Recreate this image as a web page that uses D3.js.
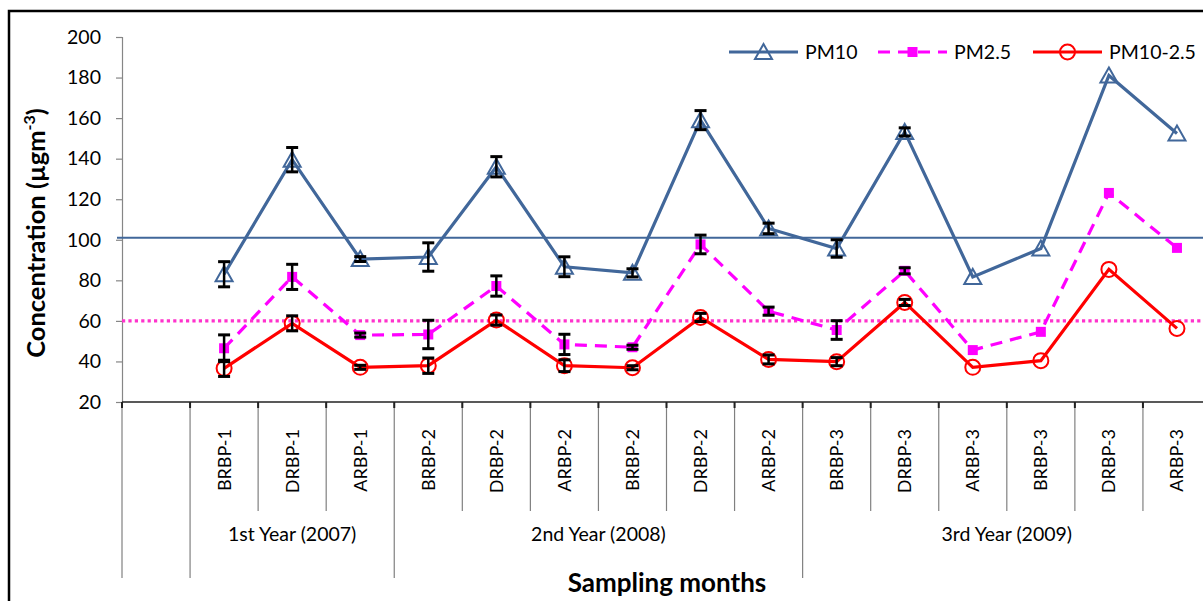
<!DOCTYPE html>
<html>
<head>
<meta charset="utf-8">
<script src="https://cdn.jsdelivr.net/npm/d3@7"></script>
<style>
  html, body { margin: 0; padding: 0; background: #fff; }
  svg { display: block; }
  text { font-family: Lato, "Open Sans", sans-serif; fill: #000; }
</style>
</head>
<body>
<svg id="chart" width="1203" height="601"></svg>
<script>
// ---------------- data ----------------
const categories = ["", "BRBP-1", "DRBP-1", "ARBP-1", "BRBP-2", "DRBP-2", "ARBP-2", "BRBP-2", "DRBP-2", "ARBP-2",
                    "BRBP-3", "DRBP-3", "ARBP-3", "BRBP-3", "DRBP-3", "ARBP-3"];
const groupLabels = ["", "1st Year (2007)", "2nd Year (2008)", "3rd Year (2009)"];
const groupSizes = [1, 3, 6, 6];

const pm10     = [null, 83, 139.5, 90.5, 91.5, 136, 86.7, 83.7, 159, 105.6, 95.7, 153.2, 81.7, 95.7, 181, 152.4];
const pm10Err  = [null, 6.2, 6, 1.2, 7, 5, 4.9, 2, 4.7, 2.6, 4.3, 2, 0, 0, 0, 0];
const pm25     = [null, 46.5, 81.7, 53, 53.3, 77.2, 48.4, 47, 97.7, 64.8, 55.5, 84.7, 45.6, 54.6, 123.1, 96];
const pm25Err  = [null, 6.6, 6.2, 1, 7, 5, 5, 1, 4.6, 2, 4.6, 1.5, 0, 0, 0, 0];
const pm1025   = [null, 36.6, 58.8, 37.1, 37.9, 60.4, 37.9, 36.9, 61.7, 41, 39.9, 69.1, 37.1, 40.4, 85.4, 56.3];
const pm1025Err= [null, 4, 3.7, 1, 3.8, 2.5, 2.9, 1, 2, 2.2, 2, 1.5, 0, 0, 0, 0];

const yTicks = [20, 40, 60, 80, 100, 120, 140, 160, 180, 200];
const pm10Standard = 101;
const pm25Standard = 60;
const seriesNames = ["PM10", "PM2.5", "PM10-2.5"];

// ---------------- layout ----------------
const svg = d3.select("#chart");
const plotLeft = 122, plotRight = 1211, plotTop = 37, plotBottom = 402;

const x = d3.scaleBand().domain(d3.range(categories.length)).range([plotLeft, plotRight]).padding(0);
const y = d3.scaleLinear().domain([20, 200]).range([plotBottom, plotTop]);

const colPM10 = "#41679A", colPM25 = "#FF00FF", colPM1025 = "#FF0000", colStd25 = "#FF33CC";

// outer frame
svg.append("rect").attr("x", 9).attr("y", 11).attr("width", 1300).attr("height", 700)
  .attr("fill", "none").attr("stroke", "#000").attr("stroke-width", 2.5);

// y axis
const yAxis = d3.axisLeft(y).tickValues(yTicks).tickSize(6).tickPadding(15).tickFormat(d3.format("d"));
const gy = svg.append("g").attr("transform", `translate(${plotLeft},0)`).call(yAxis);
gy.select(".domain").attr("stroke", "#868686").attr("stroke-width", 1.2);
gy.selectAll(".tick line").attr("stroke", "#868686").attr("stroke-width", 1.2);
gy.selectAll(".tick text").style("font-family", "Lato").style("font-size", "19.5px").attr("fill", "#000");

// x axis (hierarchical)
const gx = svg.append("g");
gx.append("line").attr("x1", plotLeft).attr("x2", plotRight).attr("y1", plotBottom).attr("y2", plotBottom)
  .attr("stroke", "#222").attr("stroke-width", 1.5);
let acc = 0;
const groupBounds = [0];
groupSizes.forEach(s => { acc += s; groupBounds.push(acc); });
const boundaryX = i => (i < categories.length ? x(i) : x(categories.length - 1) + x.bandwidth());
d3.range(categories.length + 1).forEach(i => {
  const isGroup = groupBounds.includes(i);
  gx.append("line").attr("x1", boundaryX(i)).attr("x2", boundaryX(i))
    .attr("y1", plotBottom).attr("y2", isGroup ? 578 : 511)
    .attr("stroke", "#808080").attr("stroke-width", 1.2);
  gx.append("line").attr("x1", boundaryX(i)).attr("x2", boundaryX(i))
    .attr("y1", plotBottom).attr("y2", plotBottom + 6)
    .attr("stroke", "#222").attr("stroke-width", 2);
});
categories.forEach((c, i) => {
  if (!c) return;
  const cx = x(i) + x.bandwidth() / 2;
  gx.append("text").text(c)
    .attr("transform", `translate(${cx + 6.5},${429}) rotate(-90)`)
    .attr("text-anchor", "end")
    .style("font-size", "18px");
});
groupLabels.forEach((g, k) => {
  if (!g) return;
  const x0 = boundaryX(groupBounds[k]), x1 = boundaryX(groupBounds[k + 1]);
  const cx = (x0 + x1) / 2;
  gx.append("text").text(g).attr("x", cx).attr("y", 541)
    .attr("text-anchor", "middle").style("font-size", "19.5px");
});

// axis titles
svg.append("text").attr("x", 667).attr("y", 592).attr("text-anchor", "middle")
  .style("font-size", "26px").style("font-weight", "bold").text("Sampling months");
const yt = svg.append("text").attr("transform", "translate(45,233) rotate(-90)")
  .attr("text-anchor", "middle").style("font-size", "25.5px").style("font-weight", "bold");
yt.append("tspan").text("Concentration (µgm");
yt.append("tspan").text("-3").attr("dy", -10).style("font-size", "16px");
yt.append("tspan").text(")").attr("dy", 10);

// standard lines
svg.append("line").attr("x1", plotLeft - 5).attr("x2", 1203).attr("y1", y(pm10Standard)).attr("y2", y(pm10Standard))
  .attr("stroke", colPM10).attr("stroke-width", 2.2);
svg.append("line").attr("x1", plotLeft).attr("x2", 1203).attr("y1", y(pm25Standard)).attr("y2", y(pm25Standard))
  .attr("stroke", colStd25).attr("stroke-width", 3.2).attr("stroke-dasharray", "3.2,3.2");

// series
const cxOf = i => x(i) + x.bandwidth() / 2;
const series = [
  { name: seriesNames[0], vals: pm10, err: pm10Err, color: colPM10, dash: null, marker: "triangle" },
  { name: seriesNames[1], vals: pm25, err: pm25Err, color: colPM25, dash: "12,8", marker: "square" },
  { name: seriesNames[2], vals: pm1025, err: pm1025Err, color: colPM1025, dash: null, marker: "circle" }
];

const line = d3.line().defined(d => d.v != null).x(d => cxOf(d.i)).y(d => y(d.v));

function drawMarker(g, type, px, py, color) {
  if (type === "triangle") {
    g.append("path").attr("d", `M${px},${py - 8}L${px + 8.5},${py + 7}L${px - 8.5},${py + 7}Z`)
      .attr("fill", "none").attr("stroke", color).attr("stroke-width", 2);
  } else if (type === "square") {
    g.append("rect").attr("x", px - 5).attr("y", py - 5).attr("width", 10).attr("height", 10)
      .attr("fill", color);
  } else {
    g.append("circle").attr("cx", px).attr("cy", py).attr("r", 7.5)
      .attr("fill", "none").attr("stroke", color).attr("stroke-width", 2);
  }
}

series.forEach(s => {
  const pts = s.vals.map((v, i) => ({ v, i }));
  svg.append("path").datum(pts).attr("d", line).attr("fill", "none")
    .attr("stroke", s.color).attr("stroke-width", 3.2)
    .attr("stroke-dasharray", s.dash);
});
series.forEach(s => {
  const g = svg.append("g");
  s.vals.forEach((v, i) => { if (v != null) drawMarker(g, s.marker, cxOf(i), y(v), s.color); });
});
series.forEach(s => {
  const g = svg.append("g");
  s.vals.forEach((v, i) => {
    const e = s.err[i];
    if (v == null || !e) return;
    const px = cxOf(i), y0 = y(v - e), y1 = y(v + e);
    g.append("line").attr("x1", px).attr("x2", px).attr("y1", y0).attr("y2", y1)
      .attr("stroke", "#000").attr("stroke-width", 2.5);
    [y0, y1].forEach(yy => g.append("line").attr("x1", px - 6).attr("x2", px + 6).attr("y1", yy).attr("y2", yy)
      .attr("stroke", "#000").attr("stroke-width", 3));
  });
});

// legend
const legendX = [729, 878, 1033];
const legendY = 52;
series.forEach((s, k) => {
  const g = svg.append("g");
  const lx = legendX[k];
  g.append("line").attr("x1", lx).attr("x2", lx + 69).attr("y1", legendY).attr("y2", legendY)
    .attr("stroke", s.color).attr("stroke-width", 3.2).attr("stroke-dasharray", s.dash);
  drawMarker(g, s.marker, lx + 34.5, legendY, s.color);
  g.append("text").attr("x", lx + 76).attr("y", legendY + 7).style("font-size", "19.5px").text(s.name);
});
</script>
</body>
</html>
